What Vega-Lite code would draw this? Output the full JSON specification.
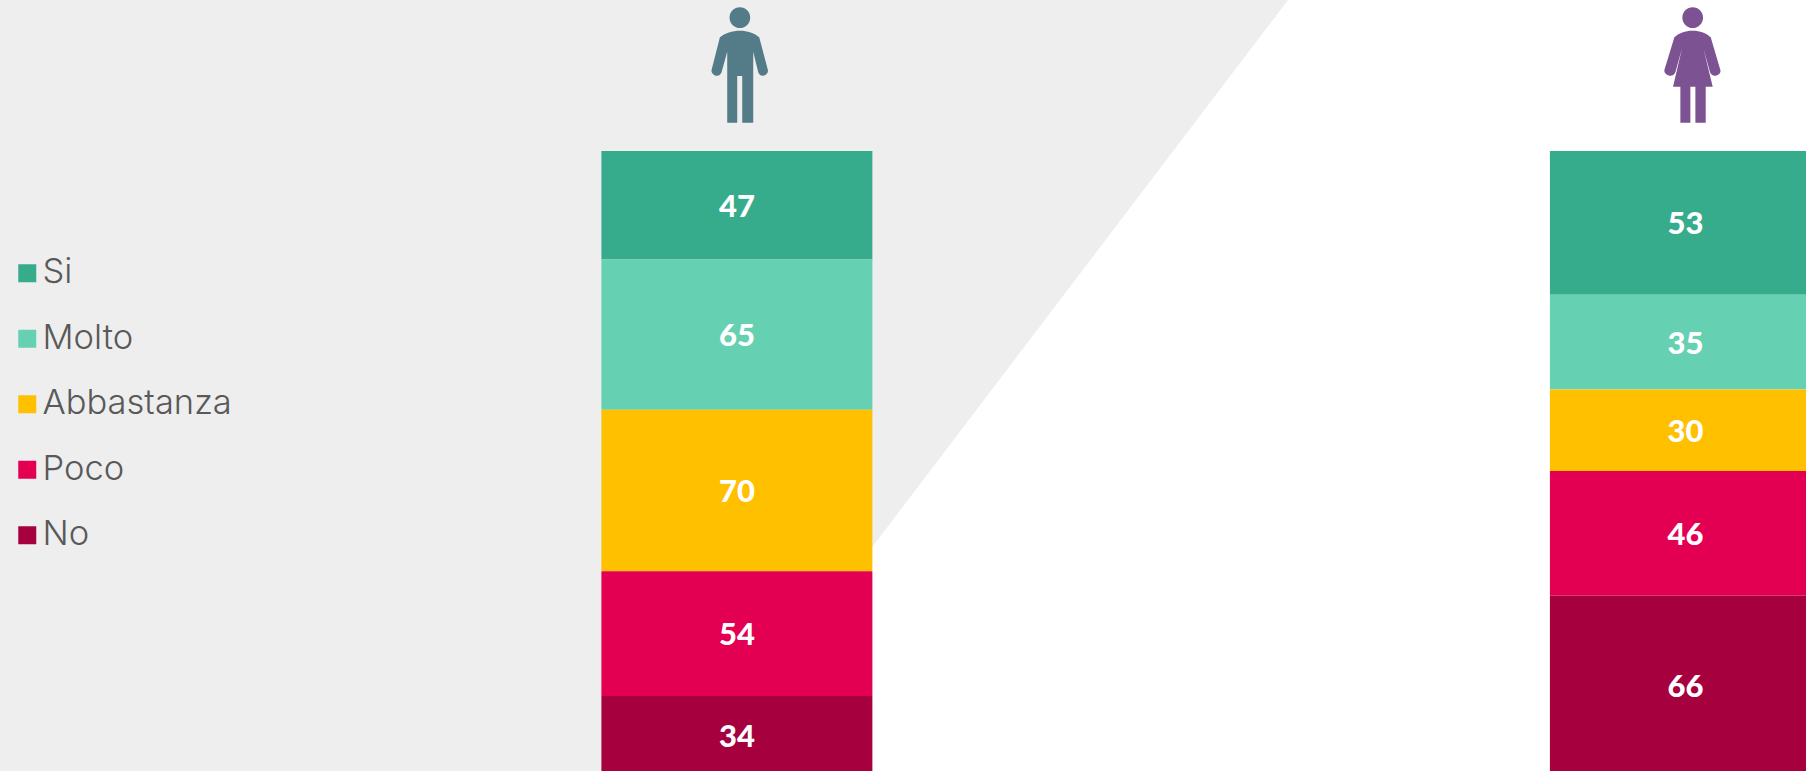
{
"$schema":"https://vega.github.io/schema/vega-lite/v6.json",
"width":1806,"height":771,"padding":0,
"autosize":{"type":"fit","contains":"padding"},
"background":"#FFFFFF",
"config":{"view":{"stroke":null}},
"datasets":{
"risposte":[
{"genere":"Uomini","risposta":"Si","ordine":5,"valore":47},
{"genere":"Uomini","risposta":"Molto","ordine":4,"valore":65},
{"genere":"Uomini","risposta":"Abbastanza","ordine":3,"valore":70},
{"genere":"Uomini","risposta":"Poco","ordine":2,"valore":54},
{"genere":"Uomini","risposta":"No","ordine":1,"valore":34},
{"genere":"Donne","risposta":"Si","ordine":5,"valore":53},
{"genere":"Donne","risposta":"Molto","ordine":4,"valore":35},
{"genere":"Donne","risposta":"Abbastanza","ordine":3,"valore":30},
{"genere":"Donne","risposta":"Poco","ordine":2,"valore":46},
{"genere":"Donne","risposta":"No","ordine":1,"valore":66}
],
"sfondo":[
{"ascissa":0,"basso":0.0056,"alto":1.2422},
{"ascissa":702,"basso":0.0056,"alto":1.2422},
{"ascissa":1288,"basso":1.2422,"alto":1.2422}
],
"uomo":[{"genere":"Uomini","livello":1.138}],
"donna":[{"genere":"Donne","livello":1.138}]
},
"layer":[
{"data":{"name":"sfondo"},
 "mark":{"type":"area","color":"#EEEEEE","interpolate":"linear","clip":true},
 "encoding":{
  "x":{"field":"ascissa","type":"quantitative","axis":null,"scale":{"domain":[0,1806],"nice":false,"zero":false}},
  "y":{"field":"basso","type":"quantitative","axis":null,"stack":null,"scale":{"domain":[0.0056,1.2422],"nice":false,"zero":false}},
  "y2":{"field":"alto"}
 }},
{"data":{"name":"risposte"},
 "mark":{"type":"bar","clip":true},
 "encoding":{
  "x":{"field":"genere","type":"nominal","axis":null,"sort":["Uomini","Donne"],"scale":{"type":"band","domain":["Uomini","Donne"],"range":[601.4,1820.9],"paddingInner":0.7143,"paddingOuter":0}},
  "y":{"field":"valore","type":"quantitative","stack":"normalize","axis":null,"scale":{"domain":[0.0056,1.2422],"nice":false,"zero":false}},
  "order":{"field":"ordine","type":"ordinal","sort":"ascending"},
  "color":{"field":"risposta","type":"nominal","sort":["Si","Molto","Abbastanza","Poco","No"],
   "scale":{"domain":["Si","Molto","Abbastanza","Poco","No"],"range":["#36AC8D","#66D1B2","#FFC000","#E30052","#A7003F"]},
   "legend":{"title":null,"orient":"none","legendX":10,"legendY":256,"symbolType":"square","symbolSize":324,"symbolStrokeWidth":0,"symbolOpacity":1,"labelFont":"Inter","labelFontWeight":300,"labelFontSize":34.5,"labelColor":"#595959","labelOffset":-2,"labelLimit":500,"rowPadding":30.5,"padding":0}}
 }},
{"data":{"name":"risposte"},
 "mark":{"type":"text","color":"#FFFFFF","font":"Lato","fontWeight":900,"fontSize":31,"baseline":"middle","align":"center","dy":2.5},
 "encoding":{
  "x":{"field":"genere","type":"nominal","axis":null,"bandPosition":0.5,"sort":["Uomini","Donne"],"scale":{"type":"band","domain":["Uomini","Donne"],"range":[601.4,1820.9],"paddingInner":0.7143,"paddingOuter":0}},
  "y":{"field":"valore","type":"quantitative","stack":"normalize","bandPosition":0.5,"axis":null,"scale":{"domain":[0.0056,1.2422],"nice":false,"zero":false}},
  "order":{"field":"ordine","type":"ordinal","sort":"ascending"},
  "detail":{"field":"risposta","type":"nominal"},
  "text":{"field":"valore","type":"quantitative"}
 }},
{"data":{"name":"uomo"},
 "mark":{"type":"point","filled":true,"fill":"#537B88","opacity":1,"stroke":null,"size":0.4444,"xOffset":3,
  "shape":"M0 -103C22 -103 45 -96 58 -83L84 15C87 30 62 42 55 22L40 -40L40 173L7 173L7 33L-8 33L-8 173L-38 173L-38 -40L-55 22C-62 42 -88 30 -85 15L-60 -83C-46 -96 -22 -103 0 -103ZM31 -142A31 31 0 1 1 -31 -142A31 31 0 1 1 31 -142Z"},
 "encoding":{
  "x":{"field":"genere","type":"nominal","axis":null,"bandPosition":0.5,"scale":{"type":"band","domain":["Uomini","Donne"],"range":[601.4,1820.9],"paddingInner":0.7143,"paddingOuter":0}},
  "y":{"field":"livello","type":"quantitative","axis":null,"scale":{"domain":[0.0056,1.2422],"nice":false,"zero":false}}
 }},
{"data":{"name":"donna"},
 "mark":{"type":"point","filled":true,"fill":"#7D5293","opacity":1,"stroke":null,"size":0.4444,"xOffset":7.3,
  "shape":"M0 -103C22 -103 42 -96 54 -83L83 15C87 30 60 42 52 22L32 -50L60 65L39 65L39 173L8 173L8 65L-7 65L-7 173L-37 173L-37 65L-59 65L-32 -50L-52 22C-60 42 -87 30 -85 15L-55 -83C-43 -96 -22 -103 0 -103ZM31 -142A31 31 0 1 1 -31 -142A31 31 0 1 1 31 -142Z"},
 "encoding":{
  "x":{"field":"genere","type":"nominal","axis":null,"bandPosition":0.5,"scale":{"type":"band","domain":["Uomini","Donne"],"range":[601.4,1820.9],"paddingInner":0.7143,"paddingOuter":0}},
  "y":{"field":"livello","type":"quantitative","axis":null,"scale":{"domain":[0.0056,1.2422],"nice":false,"zero":false}}
 }}
],
"resolve":{"scale":{"x":"independent"}}
}
